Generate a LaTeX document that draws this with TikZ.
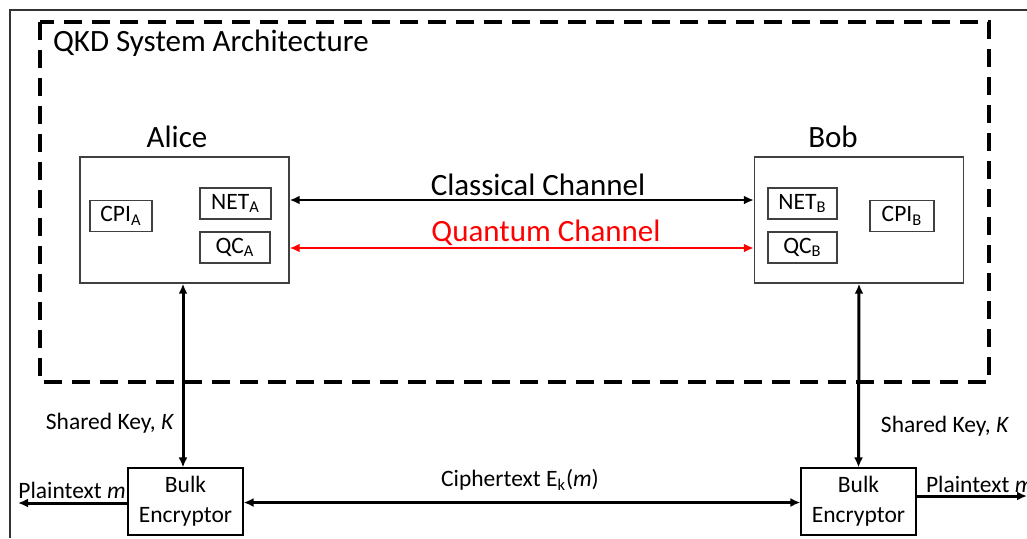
\documentclass[tikz,border=0pt]{standalone}
\usepackage{fontspec}
\setmainfont{Carlito}
\usepackage{tikz}
\usetikzlibrary{arrows.meta,positioning}

\begin{document}
\begin{tikzpicture}[
  x=0.5pt, y=-0.5pt,
  bigtext/.style={font=\fontsize{15.5}{18}\selectfont},
  smalltext/.style={font=\fontsize{11.75}{15}\selectfont},
  party/.style={
    draw=black!75,
    line width=0.7pt,
    minimum width=104.5pt,
    minimum height=63pt,
    inner sep=0pt
  },
  unit/.style={
    draw=black!75,
    line width=0.7pt,
    smalltext,
    minimum height=15.5pt,
    inner sep=0pt
  },
  bulkbox/.style={
    draw=black,
    line width=0.6pt,
    smalltext,
    align=center,
    minimum width=57.5pt,
    minimum height=33.5pt,
    inner sep=0pt
  },
  tip/.style={-{Latex[length=5pt,width=4.5pt]}},
  dtip/.style={{Latex[length=5pt,width=4.5pt]}-{Latex[length=5pt,width=4.5pt]}}
]
\useasboundingbox (0,0) rectangle (1027,538);
% outer frame
\draw[black!80, line width=0.7pt] (10,538) -- (10,10) -- (1027,10);
% dashed system border
\draw[line width=2pt, dash pattern=on 9pt off 5pt] (40,22) rectangle (989,382);
\node[bigtext, anchor=west] (title) at (46,43) {QKD System Architecture};

% Alice
\node[party] (alice) at (184.5,220) {};
\node[bigtext] (alicelbl) at (177,137) {Alice};
\node[unit, minimum width=31pt] (cpiA) at (121,216) {CPI\textsubscript{A}};
\node[unit, minimum width=35.5pt] (netA) at (235.5,203.5) {NET\textsubscript{A}};
\node[unit, minimum width=35pt] (qcA) at (235,247.5) {QC\textsubscript{A}};

% Bob
\node[party] (bob) at (859,220) {};
\node[bigtext] (boblbl) at (833,137) {Bob};
\node[unit, minimum width=34.5pt] (netB) at (802.5,203.5) {NET\textsubscript{B}};
\node[unit, minimum width=34.5pt] (qcB) at (802.5,247.5) {QC\textsubscript{B}};
\node[unit, minimum width=32pt] (cpiB) at (902,216) {CPI\textsubscript{B}};

% channels
\draw[dtip, line width=1pt] ([yshift=10pt]alice.east) -- ([yshift=10pt]bob.west);
\draw[dtip, red, line width=1pt] ([yshift=-14pt]alice.east) -- ([yshift=-14pt]bob.west);
\node[bigtext] (classlbl) at (538,185) {Classical Channel};
\node[bigtext, text=red] (quantlbl) at (546,233) {Quantum Channel};

% bulk encryptors
\node[bulkbox] (bulkA) at (185.5,501.5) {Bulk\\Encryptor};
\node[bulkbox] (bulkB) at (858.5,501.5) {Bulk\\Encryptor};

\draw[dtip, line width=1.5pt] (alice.south -| 183,0) -- (bulkA.north -| 183,0);
\draw[dtip, line width=1.5pt] (bob.south) -- (bulkB.north);
\node[smalltext] (keyA) at (110,423) {Shared Key, \textit{K}};
\node[smalltext] (keyB) at (945,426) {Shared Key, \textit{K}};

\draw[dtip, line width=1.5pt] ([yshift=-0.5pt]bulkA.east) -- ([yshift=-0.5pt]bulkB.west);
\node[smalltext] (cipher) at (520,480) {Ciphertext E\textsubscript{k}(\textit{m})};

% plaintext outputs
\coordinate (outA) at (18,503);
\coordinate (outB) at (1027,496);
\draw[tip, line width=1.5pt] (bulkA.west |- outA) -- (outA);
\draw[tip, line width=1.5pt] (bulkB.east |- outB) -- (outB);
\node[smalltext] (plainA) at (72,490) {Plaintext \textit{m}};
\node[smalltext, anchor=west] (plainB) at (919,484) {Plaintext \textit{m}};
\end{tikzpicture}
\end{document}
